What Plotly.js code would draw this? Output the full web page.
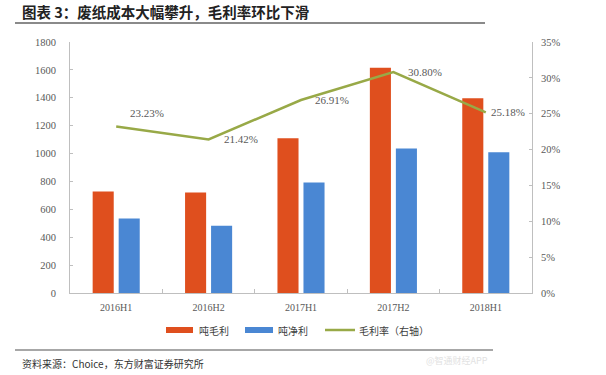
<!DOCTYPE html>
<html>
<head>
<meta charset="utf-8">
<script src="https://cdn.plot.ly/plotly-3.0.1.min.js"></script>
<style>html,body{margin:0;padding:0;background:#fff;}#chart{width:606px;height:375px;}</style>
</head>
<body>
<div id="chart"></div>
<script>
const categories = ['2016H1', '2016H2', '2017H1', '2017H2', '2018H1'];
const grossPerTon = [727, 720, 1110, 1615, 1397];
const netPerTon = [535, 482, 792, 1036, 1010];
const grossMargin = [0.2323, 0.2142, 0.2691, 0.3080, 0.2518];
const marginLabels = ['23.23%', '21.42%', '26.91%', '30.80%', '25.18%'];
const seriesNames = ['吨毛利', '吨净利', '毛利率（右轴）'];
const leftTicks = [0, 200, 400, 600, 800, 1000, 1200, 1400, 1600, 1800];
const rightTicks = [0, 0.05, 0.10, 0.15, 0.20, 0.25, 0.30, 0.35];

const ORANGE = '#DF4F1E', BLUE = '#4A87D3', GREEN = '#98A947';
const SERIF = '"Liberation Serif", "Noto Sans CJK SC", serif';
const CJK = '"Noto Sans CJK SC", sans-serif';

const traces = [
  {type: 'bar', x: categories, y: grossPerTon, name: seriesNames[0], marker: {color: ORANGE}, showlegend: false, hoverinfo: 'none'},
  {type: 'bar', x: categories, y: netPerTon, name: seriesNames[1], marker: {color: BLUE}, showlegend: false, hoverinfo: 'none'},
  {type: 'scatter', mode: 'lines', x: categories, y: grossMargin, yaxis: 'y2', name: seriesNames[2], line: {color: GREEN, width: 2.5}, showlegend: false, hoverinfo: 'none'}
];

// label offsets (px)
const lblDX = [12, 13, 12, 13, 3];
const lblDY = [13, 0, 0, 0, 0];
const annotations = categories.map((c, i) => ({
  x: c, y: grossMargin[i], xref: 'x', yref: 'y2', text: marginLabels[i], showarrow: false,
  xanchor: 'left', yanchor: 'middle', xshift: lblDX[i], yshift: lblDY[i],
  font: {family: SERIF, size: 11, color: '#595959'}
}));

// paper coordinate helpers (plot area: x 70..532, y 42..293)
const L = 70, R = 532, T = 42, B = 293;
const px = v => (v - L) / (R - L);
const py = v => (B - v) / (B - T);

// legend (manual)
const legY = 330;
const shapes = [
  {type: 'rect', xref: 'paper', yref: 'paper', x0: px(166), x1: px(193), y0: py(333), y1: py(327), fillcolor: ORANGE, line: {width: 0}},
  {type: 'rect', xref: 'paper', yref: 'paper', x0: px(245), x1: px(273), y0: py(333), y1: py(327), fillcolor: BLUE, line: {width: 0}},
  {type: 'line', xref: 'paper', yref: 'paper', x0: px(325), x1: px(355), y0: py(legY), y1: py(legY), line: {color: GREEN, width: 2.5}},
  {type: 'line', xref: 'paper', yref: 'paper', x0: px(15), x1: px(485), y0: py(23), y1: py(23), line: {color: '#8a8a8a', width: 2}},
  {type: 'line', xref: 'paper', yref: 'paper', x0: px(15), x1: px(493), y0: py(350), y1: py(350), line: {color: '#8a8a8a', width: 1.5}}
];
annotations.push(
  {xref: 'paper', yref: 'paper', x: px(197), y: py(legY), text: seriesNames[0], showarrow: false, xanchor: 'left', yanchor: 'middle', font: {family: CJK, size: 10, color: '#404040'}},
  {xref: 'paper', yref: 'paper', x: px(276), y: py(legY), text: seriesNames[1], showarrow: false, xanchor: 'left', yanchor: 'middle', font: {family: CJK, size: 10, color: '#404040'}},
  {xref: 'paper', yref: 'paper', x: px(357), y: py(legY), text: seriesNames[2], showarrow: false, xanchor: 'left', yanchor: 'middle', font: {family: CJK, size: 10, color: '#404040'}},
  {xref: 'paper', yref: 'paper', x: px(20), y: py(363), text: '资料来源：Choice，东方财富证券研究所', showarrow: false, xanchor: 'left', yanchor: 'middle', font: {family: CJK, size: 10, color: '#333'}},
  {xref: 'paper', yref: 'paper', x: px(490), y: py(360), text: '@智通财经APP', showarrow: false, xanchor: 'right', yanchor: 'middle', font: {family: CJK, size: 9, color: '#e2e2e2'}}
);

const axisCommon = {showgrid: false, zeroline: false, showline: true, linecolor: '#bfbfbf', linewidth: 1,
  ticks: 'inside', ticklen: 3, tickcolor: '#bfbfbf', tickfont: {family: SERIF, size: 10.5, color: '#595959'}, fixedrange: true};

const layout = {
  width: 606, height: 375,
  margin: {l: L, r: 606 - R, t: T, b: 375 - B},
  paper_bgcolor: '#fff', plot_bgcolor: '#fff',
  title: {text: '<b>图表 3：废纸成本大幅攀升，毛利率环比下滑</b>', xref: 'container', yref: 'container', x: 22 / 606, xanchor: 'left', y: 1 - 13 / 375, yanchor: 'middle', font: {family: CJK, size: 14.5, color: '#222'}},
  barmode: 'group', bargap: 0.437, bargroupgap: 0.19,
  xaxis: Object.assign({}, axisCommon, {type: 'category', tickson: 'boundaries', ticklen: 4, ticklabelstandoff: 5, tickfont: {family: SERIF, size: 10, color: '#595959'}}),
  yaxis: Object.assign({}, axisCommon, {range: [0, 1800], tickvals: leftTicks, ticktext: leftTicks.map(String), ticklabelstandoff: 11}),
  yaxis2: Object.assign({}, axisCommon, {overlaying: 'y', side: 'right', range: [0, 0.35], tickvals: rightTicks, tickformat: '.0%', ticklabelstandoff: 6}),
  shapes: shapes,
  annotations: annotations,
  showlegend: false
};

Plotly.newPlot('chart', traces, layout, {staticPlot: true, displayModeBar: false});
</script>
</body>
</html>
